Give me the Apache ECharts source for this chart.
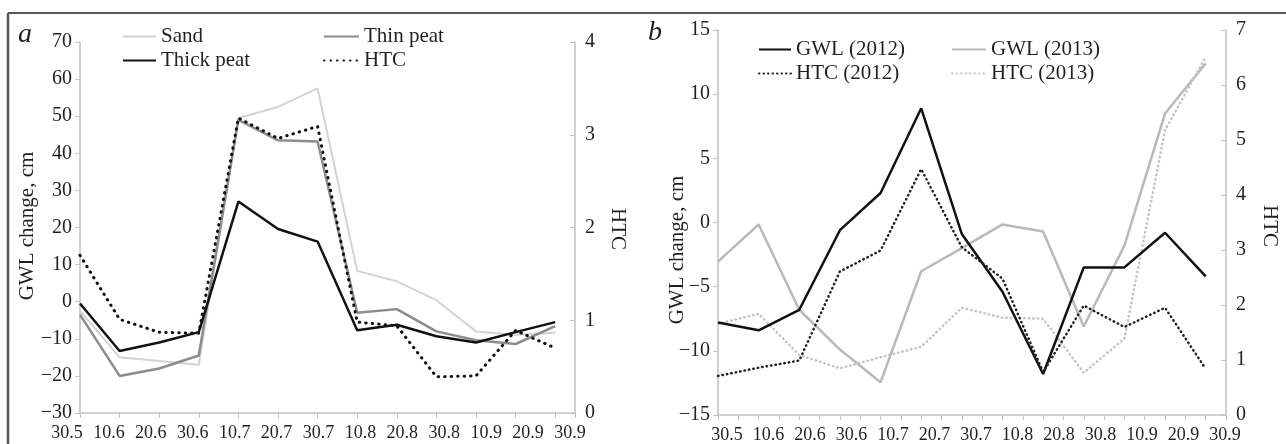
<!DOCTYPE html>
<html><head><meta charset="utf-8">
<script src="https://cdn.jsdelivr.net/npm/echarts@6/dist/echarts.min.js"></script>
<style>html,body{margin:0;padding:0;background:#fff}#c{width:1286px;height:444px}</style>
</head><body><div id="c"></div>
<script>
// ---- data ----
const categories = ['30.5','10.6','20.6','30.6','10.7','20.7','30.7','10.8','20.8','30.8','10.9','20.9','30.9'];
// panel a (GWL change, cm; HTC)
const sand      = [-2.5, -15, -16, -17, 49.5, 52.5, 57.5, 8.3, 5.5, 0.4, -8.0, -8.9, -8.4];
const thinPeat  = [-3.5, -20, -18, -14.5, 49, 43.5, 43.2, -3, -2, -8, -10.4, -11.4, -6.6];
const thickPeat = [-0.5, -13.3, -11, -8.2, 27, 19.6, 16.2, -7.7, -6.2, -9.3, -11, -8.2, -5.5];
const htcA      = [1.70, 1.01, 0.87, 0.86, 3.18, 2.96, 3.09, 0.98, 0.94, 0.39, 0.40, 0.89, 0.70];
// panel b
const gwl2012 = [-7.8, -8.4, -6.8, -0.6, 2.3, 8.9, -0.9, -5.4, -11.8, -3.5, -3.5, -0.8, -4.2];
const htc2012 = [0.71, 0.86, 0.99, 2.61, 2.99, 4.47, 3.05, 2.48, 0.78, 1.99, 1.60, 1.95, 0.84];
const gwl2013 = [-3.05, -0.15, -6.8, -9.9, -12.45, -3.8, -2.0, -0.15, -0.7, -8.1, -1.8, 8.5, 12.4];
const htc2013 = [1.66, 1.84, 1.09, 0.85, 1.05, 1.24, 1.95, 1.77, 1.75, 0.77, 1.39, 5.18, 6.51];

const FONT = '"Liberation Serif", "DejaVu Serif", serif';
const TXT = '#231f20';
const AX = '#c2c2c2';
const pts = arr => arr.map((v, i) => [i, v]);
const minus = v => String(v).replace('-', '\u2212');

function valueX(grid, interval) {
  return { gridIndex: grid, type: 'value', min: 0, max: 12.5, interval: interval,
    axisLine: { show: true, onZero: false, lineStyle: { color: AX, width: 1.5 } },
    axisTick: { show: true, length: 5, lineStyle: { color: AX, width: 1 } },
    axisLabel: { show: false }, splitLine: { show: false } };
}
function labelX(grid) {
  return { gridIndex: grid, type: 'category', data: categories, boundaryGap: false,
    axisLine: { show: false }, axisTick: { show: false },
    axisLabel: { interval: 0, margin: 11, fontSize: 18, fontFamily: FONT, color: TXT } };
}
function valueY(grid, min, max, interval, pos) {
  return { gridIndex: grid, type: 'value', min: min, max: max, interval: interval, position: pos,
    axisLine: { show: true, onZero: false, lineStyle: { color: AX, width: 1.5 } },
    axisTick: { show: true, length: 5, inside: pos === 'right', lineStyle: { color: AX, width: 1 } },
    axisLabel: { margin: pos === 'left' ? 8 : 10, fontSize: 20, fontFamily: FONT, color: TXT, formatter: minus },
    splitLine: { show: false } };
}
const hiddenY = g => ({ gridIndex: g, type: 'value', min: 0, max: 1, show: false });

function line(name, xi, yi, arr, color, width, dash) {
  return { type: 'line', name: name, xAxisIndex: xi, yAxisIndex: yi, data: pts(arr),
    symbol: 'none', showSymbol: false,
    lineStyle: { color: color, width: width, type: dash || 'solid', cap: dash ? 'round' : 'butt' },
    itemStyle: { color: color } };
}
function legend(left, top, names, w) {
  return { left: left, top: top, orient: 'vertical', itemWidth: w, itemHeight: 10, itemGap: 3,
    padding: 0, selectedMode: false, data: names,
    itemStyle: { opacity: 0 },
    textStyle: { fontSize: 21, fontFamily: FONT, color: TXT } };
}
function txt(x, y, s, size, rot, style) {
  return { type: 'text', x: x, y: y, rotation: rot || 0,
    style: { text: s, fontSize: size, fontFamily: FONT, fontStyle: style || 'normal',
      fill: TXT, align: 'center', verticalAlign: 'middle',
      textAlign: 'center', textVerticalAlign: 'middle' } };
}

const chart = echarts.init(document.getElementById('c'));
chart.setOption({
  animation: false,
  backgroundColor: '#fff',
  grid: [
    { left: 80, right: 711, top: 42, bottom: 31 },
    { left: 67, right: 716, top: 42, bottom: 31 },
    { left: 718, right: 60, top: 30, bottom: 29 },
    { left: 727, right: 61, top: 30, bottom: 29 }
  ],
  xAxis: [ valueX(0, 1), labelX(1), valueX(2, 0.5), labelX(3) ],
  yAxis: [
    valueY(0, -30, 70, 10, 'left'), valueY(0, 0, 4, 1, 'right'), hiddenY(1),
    valueY(2, -15, 15, 5, 'left'), valueY(2, 0, 7, 1, 'right'), hiddenY(3)
  ],
  legend: [
    legend(122, 26, ['Sand', 'Thick peat'], 33),
    legend(323, 26, ['Thin peat', 'HTC'], 35),
    legend(758, 39, ['GWL (2012)', 'HTC (2012)'], 32),
    legend(951, 39, ['GWL (2013)', 'HTC (2013)'], 34)
  ],
  series: [
    line('Sand', 0, 0, sand, '#d3d3d3', 2),
    line('Thin peat', 0, 0, thinPeat, '#8c8c8c', 2.5),
    line('Thick peat', 0, 0, thickPeat, '#111', 2.5),
    line('HTC', 0, 1, htcA, '#111', 3, [0.5, 6]),
    line('GWL (2013)', 2, 3, gwl2013, '#b9b9b9', 2.5),
    line('HTC (2013)', 2, 4, htc2013, '#c4c4c4', 2.5, [0.5, 4]),
    line('GWL (2012)', 2, 3, gwl2012, '#111', 2.5),
    line('HTC (2012)', 2, 4, htc2012, '#222', 2.5, [0.5, 4])
  ],
  graphic: [
    { type: 'line', shape: { x1: 8, y1: 13, x2: 1286, y2: 13 }, style: { stroke: '#222', lineWidth: 1.5 } },
    { type: 'line', shape: { x1: 8, y1: 13, x2: 8, y2: 444 }, style: { stroke: '#555', lineWidth: 2.5 } },
    txt(25, 35, 'a', 28, 0, 'italic'),
    txt(655, 33, 'b', 28, 0, 'italic'),
    txt(27, 226, 'GWL change, cm', 21, Math.PI / 2),
    txt(677, 250, 'GWL change, cm', 21, Math.PI / 2),
    txt(618, 229, 'HTC', 21, -Math.PI / 2),
    txt(1270, 226, 'HTC', 21, -Math.PI / 2)
  ]
});
</script></body></html>
